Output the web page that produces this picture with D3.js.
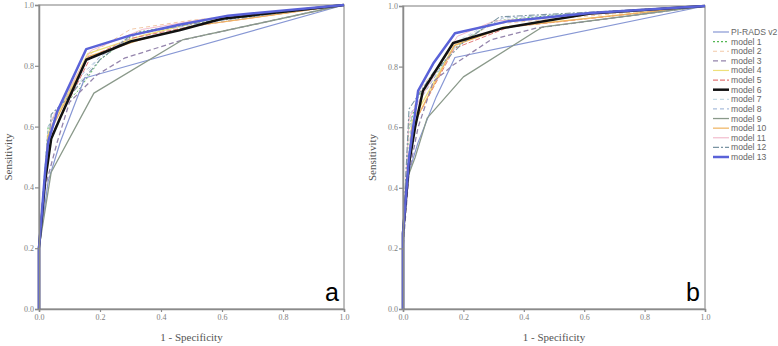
<!DOCTYPE html>
<html>
<head>
<meta charset="utf-8">
<script src="https://cdn.jsdelivr.net/npm/d3@7"></script>
<style>
  body { margin: 0; background: #fff; }
  svg { display: block; }
</style>
</head>
<body>
<div id="app"></div>
<script>
const width = 778;
const height = 346;

const seriesNames = ["PI-RADS v2", "model 1", "model 2", "model 3", "model 4", "model 5", "model 6",
  "model 7", "model 8", "model 9", "model 10", "model 11", "model 12", "model 13"];
const axisTicks = [0, 0.2, 0.4, 0.6, 0.8, 1.0];
const panelLabels = ["a", "b"];

// ROC points [1 - specificity, sensitivity], one list per series, same order as seriesNames
const rocA = [
  [[0,0],[0,0.2],[0.03,0.42],[0.07,0.55],[0.15,0.76],[1,1]],
  [[0,0],[0,0.2],[0.03,0.6],[0.06,0.65],[0.13,0.72],[0.2,0.82],[0.32,0.91],[0.5,0.94],[1,1]],
  [[0,0],[0,0.2],[0.04,0.62],[0.17,0.84],[0.3,0.92],[0.5,0.95],[1,1]],
  [[0,0],[0,0.2],[0.02,0.4],[0.06,0.55],[0.1,0.68],[0.19,0.77],[0.28,0.825],[0.47,0.885],[1,1]],
  [[0,0],[0,0.2],[0.03,0.58],[0.16,0.84],[0.34,0.9],[0.55,0.95],[1,1]],
  [[0,0],[0,0.2],[0.03,0.55],[0.17,0.83],[0.3,0.89],[0.5,0.93],[1,1]],
  [[0,0],[0,0.2],[0.02,0.42],[0.04,0.56],[0.07,0.63],[0.155,0.82],[0.3,0.88],[0.46,0.917],[0.6,0.955],[1,1]],
  [[0,0],[0,0.2],[0.04,0.63],[0.2,0.83],[0.3,0.9],[0.48,0.94],[1,1]],
  [[0,0],[0,0.2],[0.03,0.6],[0.12,0.75],[0.2,0.83],[0.33,0.91],[1,1]],
  [[0,0],[0,0.2],[0.04,0.45],[0.18,0.71],[0.47,0.885],[1,1]],
  [[0,0],[0,0.2],[0.03,0.57],[0.16,0.83],[0.33,0.885],[0.5,0.93],[1,1]],
  [[0,0],[0,0.2],[0.04,0.62],[0.17,0.85],[0.34,0.92],[0.52,0.95],[1,1]],
  [[0,0],[0,0.2],[0.04,0.64],[0.1,0.7],[0.2,0.82],[0.3,0.9],[0.48,0.935],[1,1]],
  [[0,0],[0,0.2],[0.02,0.45],[0.03,0.55],[0.06,0.65],[0.155,0.855],[0.3,0.9],[0.46,0.935],[0.62,0.965],[1,1]]
];

const rocB = [
  [[0,0],[0,0.2],[0.01,0.42],[0.05,0.55],[0.11,0.7],[0.172,0.83],[1,1]],
  [[0,0],[0,0.25],[0.02,0.6],[0.05,0.7],[0.17,0.86],[0.3,0.95],[0.5,0.97],[1,1]],
  [[0,0],[0,0.25],[0.02,0.62],[0.06,0.73],[0.18,0.88],[0.3,0.94],[1,1]],
  [[0,0],[0,0.2],[0.02,0.45],[0.05,0.6],[0.1,0.75],[0.166,0.805],[0.29,0.888],[0.44,0.927],[1,1]],
  [[0,0],[0,0.25],[0.03,0.62],[0.17,0.87],[0.33,0.93],[1,1]],
  [[0,0],[0,0.25],[0.03,0.6],[0.17,0.86],[0.35,0.93],[1,1]],
  [[0,0],[0,0.25],[0.02,0.48],[0.04,0.6],[0.066,0.72],[0.166,0.878],[0.33,0.927],[0.62,0.975],[1,1]],
  [[0,0],[0,0.25],[0.02,0.64],[0.19,0.89],[0.3,0.95],[1,1]],
  [[0,0],[0,0.25],[0.03,0.65],[0.18,0.88],[0.33,0.96],[1,1]],
  [[0,0],[0,0.2],[0.01,0.42],[0.04,0.5],[0.08,0.63],[0.2,0.766],[0.46,0.93],[1,1]],
  [[0,0],[0,0.25],[0.03,0.6],[0.17,0.87],[0.34,0.93],[1,1]],
  [[0,0],[0,0.25],[0.02,0.63],[0.18,0.9],[0.3,0.95],[1,1]],
  [[0,0],[0,0.25],[0.02,0.66],[0.1,0.78],[0.2,0.88],[0.32,0.964],[1,1]],
  [[0,0],[0,0.25],[0.02,0.5],[0.05,0.72],[0.1,0.81],[0.172,0.91],[0.35,0.95],[0.62,0.977],[1,1]]
];

// line styles per series
const colors = ["#8797d4", "#55b855", "#f2c9a8", "#9484ac", "#eee07a", "#e47a7a", "#111111",
  "#c9dde6", "#a9bddb", "#8a998a", "#f0b25e", "#f2bccd", "#7a94a2", "#5a62d8"];
const dashes = [null, "2,2", "4,3", "5,3", null, "5,2", null,
  "4,3", "4,3", null, null, null, "6,2,2,2", null];
const widths = [1.2, 1, 1, 1.3, 1.2, 1, 2.5, 1, 1, 1.3, 1.2, 1, 1.1, 2.5];
const drawOrder = [1, 2, 4, 5, 7, 8, 10, 11, 12, 0, 3, 9, 6, 13];

const panels = [
  { data: rocA, x0: 39, x1: 344, y0: 309, y1: 5, label: panelLabels[0] },
  { data: rocB, x0: 403, x1: 705, y0: 309, y1: 6, label: panelLabels[1] }
];

const svg = d3.select('#app')
  .append('svg')
  .attr('width', width)
  .attr('height', height)
  .style('font-family', '"Liberation Serif", "DejaVu Serif", serif');

panels.forEach(p => {
  const x = d3.scaleLinear().domain([0, 1]).range([p.x0, p.x1]);
  const y = d3.scaleLinear().domain([0, 1]).range([p.y0, p.y1]);
  const g = svg.append('g');

  // frame
  g.append('rect')
    .attr('x', p.x0).attr('y', p.y1)
    .attr('width', p.x1 - p.x0).attr('height', p.y0 - p.y1)
    .attr('fill', 'none').attr('stroke', '#a8a8a8').attr('stroke-width', 1.5);

  const line = d3.line().x(d => x(d[0])).y(d => y(d[1]));

  drawOrder.forEach(i => {
    g.append('path')
      .datum(p.data[i])
      .attr('d', line)
      .attr('fill', 'none')
      .attr('stroke', colors[i])
      .attr('stroke-width', widths[i])
      .attr('stroke-dasharray', dashes[i])
      .attr('stroke-linejoin', 'round');
  });

  const xAxis = g.append('g')
    .attr('transform', `translate(0,${p.y0})`)
    .call(d3.axisBottom(x).tickValues(axisTicks).tickFormat(d3.format('.1f')).tickSize(3).tickPadding(2));
  const yAxis = g.append('g')
    .attr('transform', `translate(${p.x0},0)`)
    .call(d3.axisLeft(y).tickValues(axisTicks).tickFormat(d3.format('.1f')).tickSize(4).tickPadding(1));

  [xAxis, yAxis].forEach(a => {
    a.select('.domain').attr('stroke', '#8a8a8a').attr('stroke-width', 1.5);
    a.selectAll('.tick line').attr('stroke', '#8a8a8a').attr('stroke-width', 1.2);
    a.selectAll('.tick text')
      .attr('fill', '#808080')
      .style('font-size', '8px')
      .style('font-family', '"Liberation Serif", serif');
  });

  g.append('text')
    .attr('x', (p.x0 + p.x1) / 2)
    .attr('y', 341)
    .attr('text-anchor', 'middle')
    .attr('fill', '#555')
    .style('font-size', '11px')
    .text('1 - Specificity');

  g.append('text')
    .attr('transform', `translate(${p.x0 - 27},${(p.y0 + p.y1) / 2}) rotate(-90)`)
    .attr('text-anchor', 'middle')
    .attr('fill', '#555')
    .style('font-size', '11px')
    .text('Sensitivity');

  g.append('text')
    .attr('x', p.x1 - 5)
    .attr('y', 301)
    .attr('text-anchor', 'end')
    .attr('fill', '#000')
    .style('font-family', '"Liberation Sans", Arial, sans-serif')
    .style('font-size', '25px')
    .text(p.label);
});

// legend
const legend = svg.append('g');
legend.append('rect')
  .attr('x', 706).attr('y', 14)
  .attr('width', 72).attr('height', 158)
  .attr('fill', '#fff');

const legendY = d3.scalePoint().domain(seriesNames).range([32, 157]);

const items = legend.selectAll('.item')
  .data(seriesNames)
  .enter()
  .append('g')
  .attr('class', 'item')
  .attr('transform', d => `translate(0,${legendY(d)})`);

items.append('line')
  .attr('x1', 713).attr('x2', 729)
  .attr('stroke', (d, i) => colors[i])
  .attr('stroke-width', (d, i) => Math.max(widths[i], 1.2))
  .attr('stroke-dasharray', (d, i) => dashes[i]);

items.append('text')
  .attr('x', 731)
  .attr('dy', '0.35em')
  .attr('fill', '#666')
  .style('font-family', '"Liberation Sans", Arial, sans-serif')
  .style('font-size', '8.6px')
  .text(d => d);
</script>
</body>
</html>
